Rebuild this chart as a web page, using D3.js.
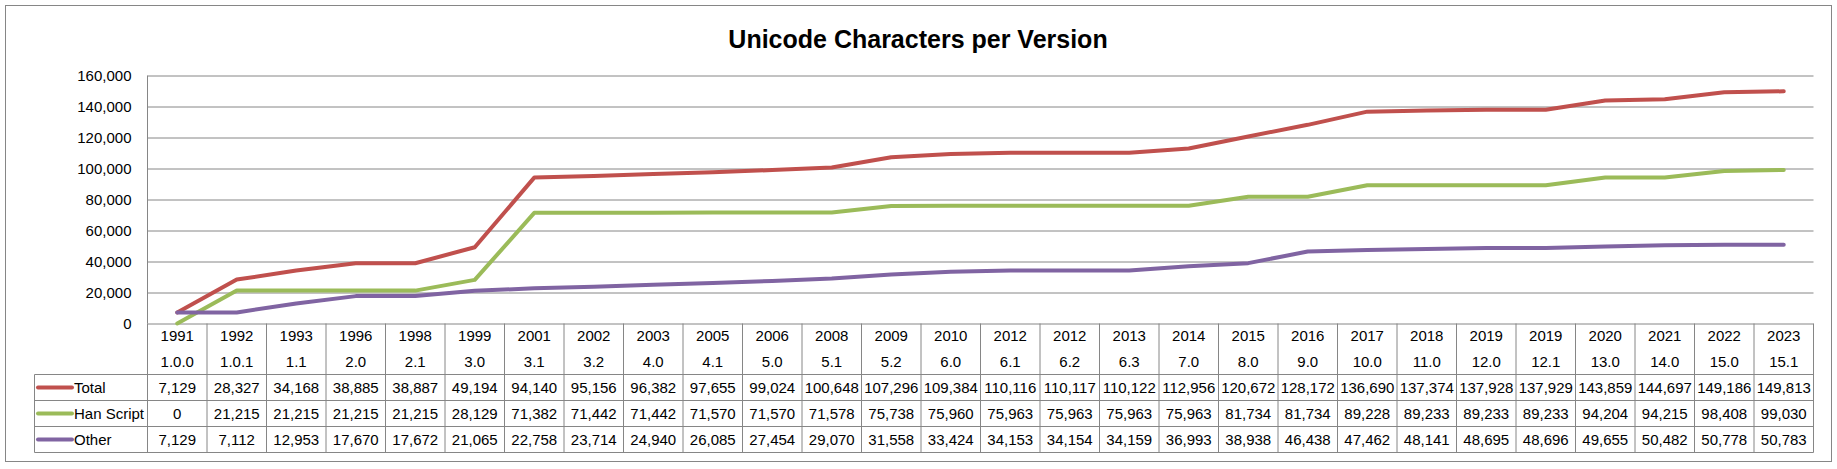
<!DOCTYPE html>
<html><head><meta charset="utf-8">
<script src="https://cdn.jsdelivr.net/npm/d3@7"></script>
<style>
html,body{margin:0;padding:0;background:#fff;}
svg text{font-family:"Liberation Sans",Arial,sans-serif;fill:#000;}
</style></head>
<body><svg id="c" width="1837" height="469"></svg>
<script>
const years = ["1991","1992","1993","1996","1998","1999","2001","2002","2003","2005","2006","2008","2009","2010","2012","2012","2013","2014","2015","2016","2017","2018","2019","2019","2020","2021","2022","2023"];
const versions = ["1.0.0","1.0.1","1.1","2.0","2.1","3.0","3.1","3.2","4.0","4.1","5.0","5.1","5.2","6.0","6.1","6.2","6.3","7.0","8.0","9.0","10.0","11.0","12.0","12.1","13.0","14.0","15.0","15.1"];
const total = [7129,28327,34168,38885,38887,49194,94140,95156,96382,97655,99024,100648,107296,109384,110116,110117,110122,112956,120672,128172,136690,137374,137928,137929,143859,144697,149186,149813];
const han = [0,21215,21215,21215,21215,28129,71382,71442,71442,71570,71570,71578,75738,75960,75963,75963,75963,75963,81734,81734,89228,89233,89233,89233,94204,94215,98408,99030];
const other = [7129,7112,12953,17670,17672,21065,22758,23714,24940,26085,27454,29070,31558,33424,34153,34154,34159,36993,38938,46438,47462,48141,48695,48696,49655,50482,50778,50783];
const yTicks = [0,20000,40000,60000,80000,100000,120000,140000,160000];
const seriesNames = ["Total","Han Script","Other"];
const seriesColors = ["#C0504D","#9BBB59","#8064A2"];
const seriesData = [total, han, other];

const svg = d3.select("#c");
const grid = "#868686";
const L = 147.5, R = 1813.5, T = 75.5, B = 323.5;
const idx = d3.range(years.length);
const x = d3.scaleBand().domain(idx).range([L, R]);
const y = d3.scaleLinear().domain([0,160000]).range([B, T]);
const fmt = d3.format(",");

// outer border
svg.append("rect").attr("x",5.5).attr("y",5.5).attr("width",1826).attr("height",456)
  .attr("fill","#fff").attr("stroke",grid).attr("stroke-width",1);

// title
svg.append("text").attr("x",918).attr("y",48).attr("text-anchor","middle")
  .attr("font-size",25).attr("font-weight","bold").text("Unicode Characters per Version");

// y axis with gridlines
const yAxis = d3.axisLeft(y).tickValues(yTicks).tickFormat(fmt).tickSize(-(R-L)).tickPadding(16);
const ga = svg.append("g").attr("transform",`translate(${L},0)`).call(yAxis);
ga.select(".domain").remove();
ga.selectAll(".tick line").attr("stroke",grid).attr("stroke-width",1);
ga.selectAll(".tick text").attr("font-size",15).attr("font-family","Liberation Sans, Arial, sans-serif").attr("fill","#000");
svg.append("line").attr("x1",L).attr("x2",L).attr("y1",T).attr("y2",B).attr("stroke",grid);

// lines
const line = d3.line().x((d,i)=>x(i)+x.bandwidth()/2).y(d=>y(d));
seriesData.forEach((s,k)=>{
  svg.append("path").datum(s).attr("d",line).attr("fill","none")
    .attr("stroke",seriesColors[k]).attr("stroke-width",4)
    .attr("stroke-linejoin","round").attr("stroke-linecap","round");
});

// data table
const rowH = 26;
const headTop = B, headBot = 374.5;
const rowTops = [headBot, headBot+rowH, headBot+2*rowH];
const tblBot = headBot + 3*rowH;
const legL = 34.5;
const tg = svg.append("g");
[headBot, headBot+rowH, headBot+2*rowH, tblBot].forEach(yy=>{
  tg.append("line").attr("x1",legL).attr("x2",R).attr("y1",yy).attr("y2",yy).attr("stroke",grid);
});
idx.concat([years.length]).forEach(i=>{
  const xx = i<years.length ? x(i) : R;
  tg.append("line").attr("x1",xx).attr("x2",xx).attr("y1",headTop).attr("y2",tblBot).attr("stroke",grid);
});
tg.append("line").attr("x1",legL).attr("x2",legL).attr("y1",headBot).attr("y2",tblBot).attr("stroke",grid);

idx.forEach(i=>{
  const cx = x(i)+x.bandwidth()/2;
  tg.append("text").attr("x",cx).attr("y",341).attr("text-anchor","middle").attr("font-size",15).text(years[i]);
  tg.append("text").attr("x",cx).attr("y",367).attr("text-anchor","middle").attr("font-size",15).text(versions[i]);
});
seriesData.forEach((s,k)=>{
  const top = rowTops[k], cy = top + rowH/2;
  tg.append("line").attr("x1",38).attr("x2",72).attr("y1",cy).attr("y2",cy)
    .attr("stroke",seriesColors[k]).attr("stroke-width",4).attr("stroke-linecap","round");
  tg.append("text").attr("x",74).attr("y",cy+5.5).attr("font-size",15).text(seriesNames[k]);
  s.forEach((v,i)=>{
    tg.append("text").attr("x",x(i)+x.bandwidth()/2).attr("y",cy+5.5).attr("text-anchor","middle")
      .attr("font-size",15).text(fmt(v));
  });
});
</script></body></html>
